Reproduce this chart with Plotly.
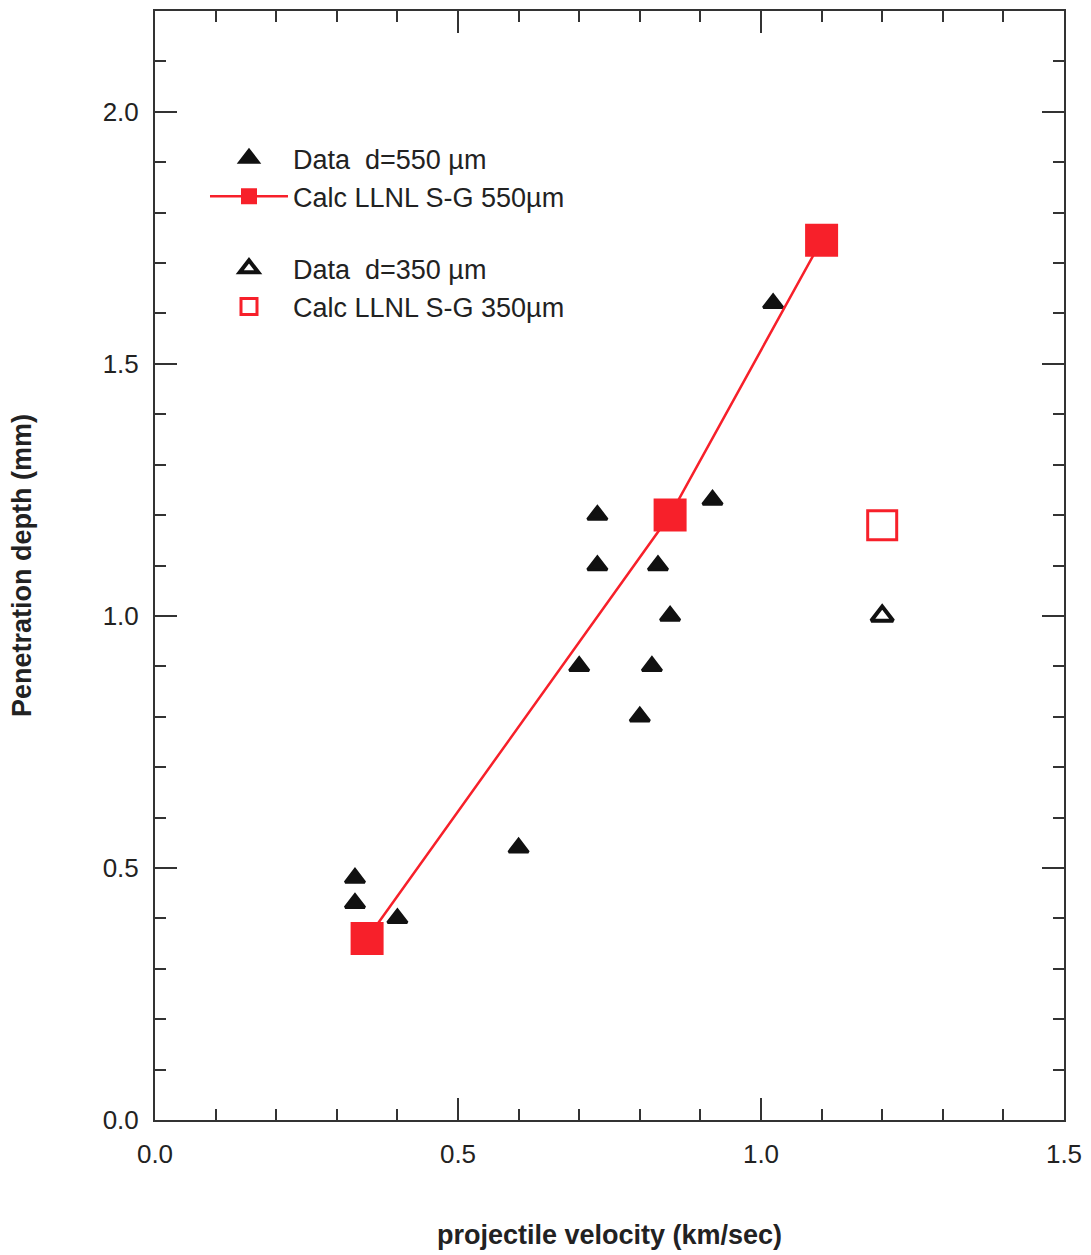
import plotly.graph_objects as go

# ---- data ----
data550_v = [0.33, 0.33, 0.40, 0.60, 0.70, 0.73, 0.73, 0.83, 0.85, 0.82, 0.80, 0.92, 1.02]
data550_d = [0.48, 0.43, 0.40, 0.54, 0.90, 1.20, 1.10, 1.10, 1.00, 0.90, 0.80, 1.23, 1.62]
calc550_v = [0.35, 0.85, 1.10]
calc550_d = [0.36, 1.20, 1.745]
data350_v = [1.20]
data350_d = [1.00]
calc350_v = [1.20]
calc350_d = [1.18]

RED = '#f7202a'
FONT = 'Liberation Sans, Arial, Helvetica, sans-serif'
TXT = '#222222'

fig = go.Figure()
fig.add_trace(go.Scatter(x=data550_v, y=data550_d, mode='markers', name='Data  d=550 µm',
                         legendgroup='g550',
                         marker=dict(symbol='triangle-up', size=17, color='#111111',
                                     line=dict(width=3, color='#111111'))))
fig.add_trace(go.Scatter(x=calc550_v, y=calc550_d, mode='lines+markers', name='Calc LLNL S-G 550µm',
                         legendgroup='g550',
                         line=dict(color=RED, width=2.5),
                         marker=dict(symbol='square', size=33, color=RED, line=dict(width=0))))
fig.add_trace(go.Scatter(x=data350_v, y=data350_d, mode='markers', name='Data  d=350 µm',
                         legendgroup='g350',
                         marker=dict(symbol='triangle-up-open', size=19, color='#111111',
                                     line=dict(width=4, color='#111111'))))
fig.add_trace(go.Scatter(x=calc350_v, y=calc350_d, mode='markers', name='Calc LLNL S-G 350µm',
                         legendgroup='g350',
                         marker=dict(symbol='square-open', size=29, color=RED,
                                     line=dict(width=3, color=RED))))

axis_common = dict(
    showline=True, linecolor='#333333', linewidth=2, mirror='ticks',
    ticks='inside', ticklen=22, tickwidth=2, tickcolor='#333333',
    showgrid=False, zeroline=False,
    tickfont=dict(family=FONT, size=26, color=TXT),
    tickformat='.1f',
)
minor_common = dict(dtick=0.1, ticks='inside', ticklen=11, tickwidth=2, tickcolor='#333333', showgrid=False)

fig.update_xaxes(**axis_common, range=[0, 1.5], tick0=0, dtick=0.5, minor=minor_common,
                 ticklabelstandoff=10,
                 title=dict(text='<b>projectile velocity (km/sec)</b>', standoff=57,
                            font=dict(family=FONT, size=27, color=TXT)))
fig.update_yaxes(**axis_common, range=[0, 2.2], tick0=0, dtick=0.5, minor=minor_common,
                 ticklabelstandoff=9,
                 title=dict(text='<b>Penetration depth (mm)</b>', standoff=63,
                            font=dict(family=FONT, size=27, color=TXT)))

fig.update_layout(
    width=1091, height=1255,
    margin=dict(l=155, r=25, t=9, b=135),
    paper_bgcolor='white', plot_bgcolor='white',
    showlegend=True,
    legend=dict(x=0.055, y=0.889, xanchor='left', yanchor='top',
                bgcolor='rgba(0,0,0,0)', borderwidth=0,
                font=dict(family=FONT, size=27, color=TXT),
                itemwidth=78, tracegroupgap=34, traceorder='grouped', itemsizing='trace'),
)

fig.write_html('out.html')
